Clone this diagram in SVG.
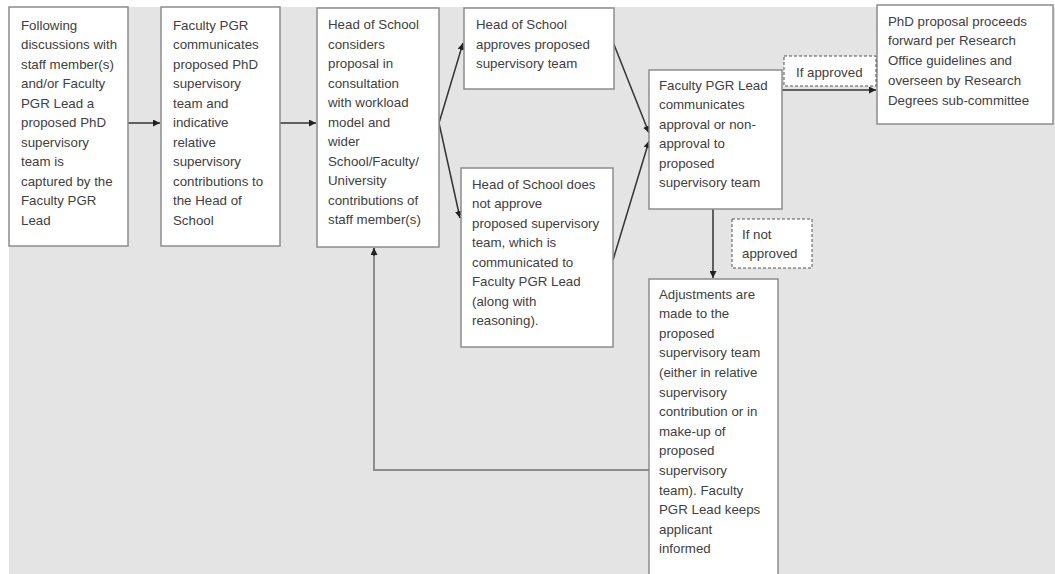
<svg xmlns="http://www.w3.org/2000/svg" width="1055" height="574" viewBox="0 0 1055 574">
<style>
.bx{fill:#ffffff;stroke:#8c8c8c;stroke-width:1.5}
.lbl{fill:#ffffff;stroke:#555555;stroke-width:1;stroke-dasharray:3 2}
.t{font-family:"Liberation Sans",Arial,sans-serif;font-size:13.3px;fill:#404040}
.c{fill:none;stroke:#333333;stroke-width:1.5}
.f{fill:none;stroke:#8c8c8c;stroke-width:2}
</style>
<defs>
<marker id="ah" viewBox="0 0 10 10" refX="10" refY="5" markerWidth="7" markerHeight="7" markerUnits="userSpaceOnUse" orient="auto">
<path d="M0,0 L10,5 L0,10 Z" fill="#222222"/>
</marker>
</defs>
<rect x="0" y="0" width="1055" height="574" fill="#ffffff"/>
<rect x="9" y="7" width="1046" height="567" fill="#e4e4e4"/>

<g id="connectors">
<line class="c" x1="128" y1="123" x2="160" y2="123" marker-end="url(#ah)"/>
<line class="c" x1="280" y1="123" x2="316" y2="123" marker-end="url(#ah)"/>
<line class="c" x1="439" y1="123" x2="463" y2="43" marker-end="url(#ah)"/>
<line class="c" x1="439" y1="123" x2="460" y2="218" marker-end="url(#ah)"/>
<line class="c" x1="613" y1="42" x2="649" y2="133" marker-end="url(#ah)"/>
<line class="c" x1="613" y1="260" x2="649" y2="141" marker-end="url(#ah)"/>
<line class="c" x1="782" y1="90" x2="876" y2="90" marker-end="url(#ah)"/>
<line class="c" x1="713" y1="209" x2="713" y2="278" marker-end="url(#ah)"/>
<path class="f" d="M649,470 L374,470 L374,248" stroke="#888888"/>
<line class="c" x1="374" y1="256" x2="374" y2="248" marker-end="url(#ah)"/>
</g>

<g id="n1">
<rect class="bx" x="9" y="7" width="119" height="239"/>
<text class="t" x="21" y="29.5">
<tspan x="21" dy="0">Following</tspan>
<tspan x="21" dy="19.5">discussions with</tspan>
<tspan x="21" dy="19.5">staff member(s)</tspan>
<tspan x="21" dy="19.5">and/or Faculty</tspan>
<tspan x="21" dy="19.5">PGR Lead a</tspan>
<tspan x="21" dy="19.5">proposed PhD</tspan>
<tspan x="21" dy="19.5">supervisory</tspan>
<tspan x="21" dy="19.5">team is</tspan>
<tspan x="21" dy="19.5">captured by the</tspan>
<tspan x="21" dy="19.5">Faculty PGR</tspan>
<tspan x="21" dy="19.5">Lead</tspan>
</text>
</g>

<g id="n2">
<rect class="bx" x="161" y="7" width="119" height="239"/>
<text class="t" x="173" y="29.5">
<tspan x="173" dy="0">Faculty PGR</tspan>
<tspan x="173" dy="19.5">communicates</tspan>
<tspan x="173" dy="19.5">proposed PhD</tspan>
<tspan x="173" dy="19.5">supervisory</tspan>
<tspan x="173" dy="19.5">team and</tspan>
<tspan x="173" dy="19.5">indicative</tspan>
<tspan x="173" dy="19.5">relative</tspan>
<tspan x="173" dy="19.5">supervisory</tspan>
<tspan x="173" dy="19.5">contributions to</tspan>
<tspan x="173" dy="19.5">the Head of</tspan>
<tspan x="173" dy="19.5">School</tspan>
</text>
</g>

<g id="n3">
<rect class="bx" x="317" y="8" width="122" height="239"/>
<text class="t" x="328" y="29">
<tspan x="328" dy="0">Head of School</tspan>
<tspan x="328" dy="19.5">considers</tspan>
<tspan x="328" dy="19.5">proposal in</tspan>
<tspan x="328" dy="19.5">consultation</tspan>
<tspan x="328" dy="19.5">with workload</tspan>
<tspan x="328" dy="19.5">model and</tspan>
<tspan x="328" dy="19.5">wider</tspan>
<tspan x="328" dy="19.5">School/Faculty/</tspan>
<tspan x="328" dy="19.5">University</tspan>
<tspan x="328" dy="19.5">contributions of</tspan>
<tspan x="328" dy="19.5">staff member(s)</tspan>
</text>
</g>

<g id="n4">
<rect class="bx" x="464" y="8" width="150" height="81"/>
<text class="t" x="476" y="29">
<tspan x="476" dy="0">Head of School</tspan>
<tspan x="476" dy="19.5">approves proposed</tspan>
<tspan x="476" dy="19.5">supervisory team</tspan>
</text>
</g>

<g id="n5">
<rect class="bx" x="461" y="168" width="152" height="179"/>
<text class="t" x="472" y="188.5">
<tspan x="472" dy="0">Head of School does</tspan>
<tspan x="472" dy="19.5">not approve</tspan>
<tspan x="472" dy="19.5">proposed supervisory</tspan>
<tspan x="472" dy="19.5">team, which is</tspan>
<tspan x="472" dy="19.5">communicated to</tspan>
<tspan x="472" dy="19.5">Faculty PGR Lead</tspan>
<tspan x="472" dy="19.5">(along with</tspan>
<tspan x="472" dy="19.5">reasoning).</tspan>
</text>
</g>

<g id="n6">
<rect class="bx" x="649" y="70" width="133" height="139"/>
<text class="t" x="659" y="89.5">
<tspan x="659" dy="0">Faculty PGR Lead</tspan>
<tspan x="659" dy="19.5">communicates</tspan>
<tspan x="659" dy="19.5">approval or non-</tspan>
<tspan x="659" dy="19.5">approval to</tspan>
<tspan x="659" dy="19.5">proposed</tspan>
<tspan x="659" dy="19.5">supervisory team</tspan>
</text>
</g>

<g id="n7">
<rect class="bx" x="877" y="5" width="176" height="119"/>
<text class="t" x="888" y="25.5">
<tspan x="888" dy="0">PhD proposal proceeds</tspan>
<tspan x="888" dy="19.8">forward per Research</tspan>
<tspan x="888" dy="19.8">Office guidelines and</tspan>
<tspan x="888" dy="19.8">overseen by Research</tspan>
<tspan x="888" dy="19.8">Degrees sub-committee</tspan>
</text>
</g>

<g id="n8">
<rect class="bx" x="649" y="279" width="129" height="300"/>
<text class="t" x="659" y="298.5">
<tspan x="659" dy="0">Adjustments are</tspan>
<tspan x="659" dy="19.6">made to the</tspan>
<tspan x="659" dy="19.6">proposed</tspan>
<tspan x="659" dy="19.6">supervisory team</tspan>
<tspan x="659" dy="19.6">(either in relative</tspan>
<tspan x="659" dy="19.6">supervisory</tspan>
<tspan x="659" dy="19.6">contribution or in</tspan>
<tspan x="659" dy="19.6">make-up of</tspan>
<tspan x="659" dy="19.6">proposed</tspan>
<tspan x="659" dy="19.6">supervisory</tspan>
<tspan x="659" dy="19.6">team). Faculty</tspan>
<tspan x="659" dy="19.6">PGR Lead keeps</tspan>
<tspan x="659" dy="19.6">applicant</tspan>
<tspan x="659" dy="19.6">informed</tspan>
</text>
</g>

<g id="label-approved">
<rect class="lbl" x="784" y="56" width="92" height="30"/>
<text class="t" x="796" y="76.5">If approved</text>
</g>

<g id="label-not-approved">
<rect class="lbl" x="732" y="219" width="80" height="49"/>
<text class="t" x="742" y="238.5">
<tspan x="742" dy="0">If not</tspan>
<tspan x="742" dy="19.5">approved</tspan>
</text>
</g>
</svg>
